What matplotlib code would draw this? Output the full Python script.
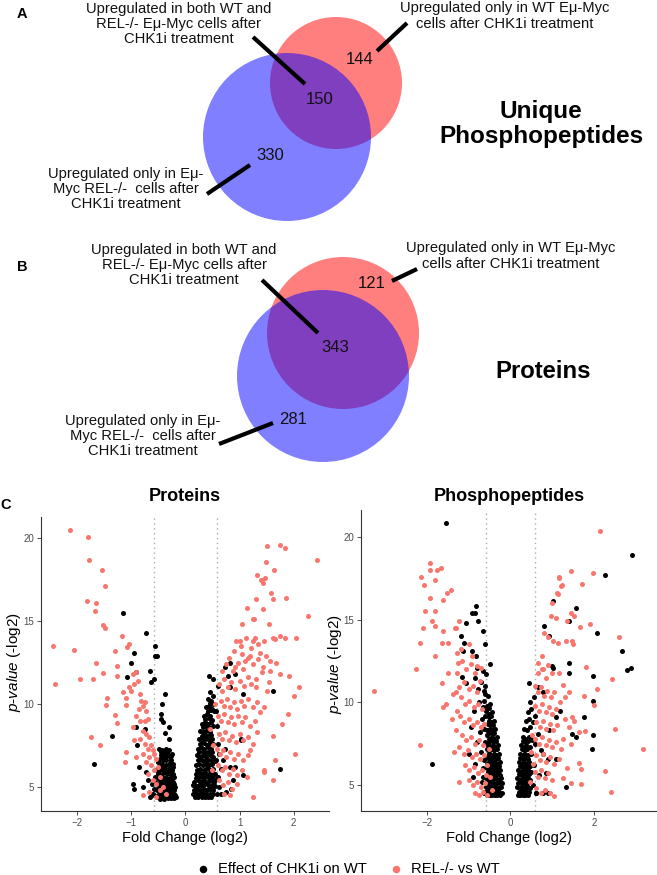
import numpy as np
import matplotlib.pyplot as plt
from matplotlib.patches import Circle

plt.rcParams['font.family'] = ['Liberation Sans', 'DejaVu Sans']
plt.rcParams['mathtext.fontset'] = 'custom'
plt.rcParams['mathtext.it'] = 'Liberation Sans:italic'
plt.rcParams['mathtext.rm'] = 'Liberation Sans'

# Venn counts: [only WT, both, only REL-/-]
venn_phos = [144, 150, 330]
venn_prot = [121, 343, 281]
lab_wt = 'Upregulated only in WT E\u03bc-Myc\ncells after CHK1i treatment'
lab_both = 'Upregulated in both WT and\nREL-/- E\u03bc-Myc cells after\nCHK1i treatment'
lab_rel = 'Upregulated only in E\u03bc-\nMyc REL-/-  cells after\nCHK1i treatment'

legend_labels = ['Effect of CHK1i on WT', 'REL-/- vs WT']
fc_cut = 0.585

# volcano points (fold change log2, -log2 p-value)
prot_wt = [
    (-1.14, 15.5), (-0.72, 14.3), (-0.55, 13.5), (-0.56, 12.9), (-0.53, 12.9), (-0.95, 13.1),
    (-1.0, 12.5), (-1.08, 11.6), (-0.90, 11.9), (-0.65, 12.0), (-0.63, 11.3), (-0.58, 11.5),
    (-0.38, 10.6), (-0.42, 10.0), (-0.44, 9.4), (-0.41, 8.9), (-0.45, 9.1), (-0.30, 8.6),
    (-0.37, 8.25), (-0.30, 7.9), (-0.75, 8.5), (-0.89, 7.5), (-0.91, 8.6), (-1.35, 8.1),
    (-1.68, 6.4), (-0.97, 5.2), (-0.94, 4.9), (-0.78, 5.0), (-0.86, 6.2), (-0.72, 5.9),
    (-0.69, 5.4), (-0.65, 4.4), (-0.58, 4.5),
    (-0.48, 7.3), (-0.42, 7.2), (-0.36, 7.3), (-0.30, 7.2), (-0.25, 7.0), (-0.45, 6.9),
    (-0.38, 6.8), (-0.32, 6.9), (-0.27, 6.6), (-0.22, 6.4), (-0.50, 6.5), (-0.43, 6.4),
    (-0.35, 6.3), (-0.29, 6.2), (-0.24, 6.0), (-0.47, 6.0), (-0.40, 5.9), (-0.33, 5.8),
    (-0.27, 5.7), (-0.21, 5.6), (-0.49, 5.5), (-0.42, 5.4), (-0.36, 5.3), (-0.30, 5.2),
    (-0.24, 5.1), (-0.19, 5.0), (-0.45, 5.0), (-0.38, 4.9), (-0.32, 4.8), (-0.26, 4.7),
    (-0.21, 4.6), (-0.48, 4.6), (-0.42, 4.5), (-0.35, 4.4), (-0.29, 4.4), (-0.23, 4.4),
    (-0.18, 4.4), (-0.52, 4.8), (-0.55, 5.3), (-0.53, 6.1), (-0.40, 7.0), (-0.34, 7.1),
    (-0.28, 6.8), (-0.22, 5.3), (-0.20, 4.8), (-0.46, 4.3), (-0.39, 4.3), (-0.33, 4.6),
    (-0.27, 4.5), (-0.44, 5.7), (-0.31, 5.5), (-0.26, 5.4), (-0.37, 6.1), (-0.41, 6.6),
    (-0.23, 5.8), (-0.51, 5.9), (-0.57, 4.9), (-0.56, 5.6), (-0.60, 4.6), (-0.62, 5.2),
    (-0.45, 7.1), (-0.39, 7.15), (-0.33, 7.05), (-0.27, 6.85), (-0.47, 6.7), (-0.41, 6.75),
    (-0.35, 6.6), (-0.29, 6.45), (-0.23, 6.2), (-0.46, 6.25), (-0.39, 6.15), (-0.32, 6.05),
    (-0.26, 5.9), (-0.50, 5.75), (-0.43, 5.65), (-0.37, 5.55), (-0.30, 5.45), (-0.24, 5.35),
    (-0.20, 5.2), (-0.47, 5.25), (-0.40, 5.15), (-0.34, 5.05), (-0.28, 4.95), (-0.22, 4.85),
    (-0.50, 5.05), (-0.44, 4.75), (-0.37, 4.65), (-0.31, 4.6), (-0.25, 4.55), (-0.19, 4.5),
    (-0.51, 4.4), (-0.44, 4.35), (-0.38, 4.5), (-0.32, 4.35), (-0.26, 4.35), (-0.21, 4.35),
    (0.44, 11.7), (0.51, 11.5), (0.60, 11.1), (0.73, 12.2), (0.83, 12.45), (0.79, 11.7),
    (0.91, 11.8), (0.82, 11.0), (1.06, 10.6), (1.62, 10.8), (1.02, 7.8), (1.03, 7.9),
    (1.06, 5.7), (0.92, 6.2), (1.74, 6.07), (0.73, 7.3), (0.63, 7.0), (0.70, 6.6),
    (0.82, 6.2), (0.88, 5.4), (0.85, 4.9), (0.76, 4.7), (0.66, 4.6),
    (0.18, 4.4), (0.24, 4.4), (0.30, 4.4), (0.36, 4.4), (0.42, 4.4), (0.48, 4.4),
    (0.16, 4.8), (0.22, 4.9), (0.28, 4.8), (0.34, 4.9), (0.40, 4.8), (0.46, 4.9), (0.52, 4.8),
    (0.17, 5.3), (0.23, 5.4), (0.29, 5.3), (0.35, 5.4), (0.41, 5.3), (0.47, 5.4), (0.53, 5.3),
    (0.19, 5.8), (0.25, 5.9), (0.31, 5.8), (0.37, 5.9), (0.43, 5.8), (0.49, 5.9), (0.55, 5.8),
    (0.20, 6.3), (0.26, 6.4), (0.32, 6.3), (0.38, 6.4), (0.44, 6.3), (0.50, 6.4),
    (0.21, 6.9), (0.27, 6.8), (0.33, 6.9), (0.39, 6.8), (0.45, 6.9), (0.51, 6.8),
    (0.23, 7.3), (0.29, 7.4), (0.35, 7.3), (0.41, 7.4), (0.47, 7.3),
    (0.25, 7.9), (0.31, 7.8), (0.37, 7.9), (0.43, 7.8), (0.49, 7.9),
    (0.27, 8.4), (0.33, 8.3), (0.39, 8.4), (0.45, 8.3), (0.30, 8.8), (0.36, 8.9),
    (0.42, 8.8), (0.48, 8.9), (0.34, 9.3), (0.40, 9.4), (0.46, 9.3), (0.38, 9.8),
    (0.44, 9.9), (0.50, 9.7), (0.42, 10.3), (0.48, 10.2), (0.45, 10.7), (0.52, 10.5),
    (0.56, 9.6), (0.58, 8.7), (0.60, 7.6), (0.57, 6.6), (0.60, 5.6), (0.58, 4.6),
    (0.62, 5.0), (0.65, 6.1), (0.14, 4.6), (0.15, 5.1), (0.20, 4.6),
    (0.21, 4.6), (0.27, 4.55), (0.33, 4.65), (0.39, 4.6), (0.45, 4.55), (0.51, 4.6),
    (0.19, 5.05), (0.25, 5.1), (0.31, 5.05), (0.37, 5.15), (0.43, 5.05), (0.49, 5.1),
    (0.55, 5.05), (0.20, 5.55), (0.26, 5.6), (0.32, 5.55), (0.38, 5.65), (0.44, 5.55),
    (0.50, 5.6), (0.56, 5.5), (0.22, 6.05), (0.28, 6.1), (0.34, 6.05), (0.40, 6.15),
    (0.46, 6.05), (0.52, 6.1), (0.24, 6.6), (0.30, 6.65), (0.36, 6.55), (0.42, 6.65),
    (0.48, 6.6), (0.54, 6.55), (0.26, 7.1), (0.32, 7.15), (0.38, 7.05), (0.44, 7.15),
    (0.50, 7.1), (0.28, 7.6), (0.34, 7.65), (0.40, 7.55), (0.46, 7.65), (0.52, 7.6),
    (0.30, 8.1), (0.36, 8.15), (0.42, 8.05), (0.48, 8.15), (0.33, 8.6), (0.39, 8.65),
    (0.45, 8.55), (0.51, 8.65), (0.37, 9.1), (0.43, 9.15), (0.49, 9.05), (0.41, 9.6),
    (0.47, 9.65), (0.53, 9.55), (0.45, 10.05), (0.51, 10.0),
]

prot_rel = [
    (-2.12, 20.48), (-1.80, 20.08), (-1.78, 18.67), (-1.54, 18.06), (-1.48, 17.1), (-1.81, 16.19),
    (-1.65, 16.09), (-1.67, 15.58), (-1.51, 14.78), (-1.48, 14.58), (-2.44, 13.49), (-2.06, 13.27),
    (-2.41, 11.21), (-1.64, 12.5), (-1.94, 11.53), (-1.70, 11.51), (-1.52, 11.88), (-1.30, 13.19),
    (-1.16, 14.07), (-1.26, 12.28), (-1.26, 11.69), (-1.07, 13.43), (-1.03, 13.59), (-1.45, 10.34),
    (-1.47, 9.94), (-1.29, 9.33), (-1.26, 8.83), (-1.74, 8.0), (-1.58, 7.54), (-1.10, 9.96),
    (-1.10, 10.38), (-1.14, 10.71), (-1.03, 11.0),
    (-0.97, 11.8), (-0.90, 11.9), (-0.87, 11.4), (-0.94, 11.2), (-1.0, 10.8), (-0.84, 10.6),
    (-0.81, 10.2), (-0.78, 9.9), (-0.75, 10.1), (-0.86, 9.7), (-0.72, 9.6), (-0.90, 9.3),
    (-0.84, 9.0), (-0.75, 9.0), (-0.69, 9.1), (-0.97, 8.6), (-0.78, 8.4), (-0.72, 8.2),
    (-0.66, 8.0), (-0.84, 7.9), (-0.94, 7.8), (-0.75, 7.6), (-0.63, 7.5), (-0.69, 7.3),
    (-0.60, 7.2), (-0.57, 7.0), (-0.78, 7.0), (-0.66, 6.8), (-0.54, 6.7), (-0.72, 6.5),
    (-0.63, 6.3), (-0.50, 6.2), (-0.57, 6.0), (-0.69, 5.8), (-0.47, 5.6), (-0.60, 5.4),
    (-0.54, 5.2), (-0.41, 5.0), (-0.47, 4.8), (-0.66, 4.7), (-0.35, 4.6), (-0.78, 4.5),
    (-0.54, 4.4), (-1.12, 6.5), (-1.09, 7.1), (-0.90, 6.8),
    (1.50, 19.5), (1.75, 19.6), (1.83, 19.4), (2.43, 18.7), (1.64, 18.1), (1.47, 17.6),
    (1.41, 17.5), (1.44, 17.3), (1.86, 16.4), (1.58, 16.7), (1.62, 16.3), (1.30, 16.3),
    (1.43, 15.7), (2.27, 15.3), (1.25, 15.1), (1.55, 14.8), (2.04, 14.0), (1.84, 14.0),
    (1.75, 14.1), (1.66, 13.9), (2.09, 11.0), (1.91, 11.7), (2.0, 10.5), (1.89, 9.4),
    (1.78, 8.8), (2.02, 7.0), (1.66, 6.65), (1.62, 5.4), (1.45, 5.9), (1.24, 4.4),
    (1.33, 17.78), (1.40, 17.5), (1.48, 18.57), (1.14, 15.8), (1.26, 15.1), (1.05, 14.8),
    (0.94, 13.8), (1.0, 13.8), (1.25, 13.8), (1.29, 14.0), (1.46, 13.8), (1.61, 14.0),
    (1.37, 13.1), (1.56, 12.6), (1.68, 12.5), (1.16, 12.8), (1.10, 12.6), (0.91, 12.2),
    (1.25, 12.4), (1.43, 12.2), (1.56, 12.0), (1.74, 11.8), (1.62, 8.1), (1.46, 6.0),
    (0.62, 11.2), (0.68, 10.8), (0.72, 11.5), (0.78, 11.0), (0.85, 11.3), (0.92, 10.9),
    (1.0, 11.4), (1.08, 11.1), (1.15, 11.6), (1.22, 11.2), (1.30, 11.5), (0.65, 10.2),
    (0.71, 9.9), (0.77, 10.3), (0.83, 9.8), (0.89, 10.1), (0.95, 9.7), (1.02, 10.2),
    (1.09, 9.9), (1.16, 10.3), (1.24, 9.8), (1.33, 10.1), (0.60, 9.3), (0.66, 9.0),
    (0.72, 9.4), (0.78, 8.9), (0.84, 9.2), (0.90, 8.8), (0.97, 9.3), (1.04, 8.9),
    (1.11, 9.2), (1.19, 8.7), (1.28, 9.0), (0.62, 8.2), (0.68, 7.9), (0.74, 8.3),
    (0.80, 7.8), (0.86, 8.1), (0.93, 7.7), (1.00, 8.2), (1.07, 7.8), (1.15, 8.0),
    (1.25, 7.6), (0.58, 7.3), (0.64, 7.0), (0.70, 7.2), (0.76, 6.8), (0.82, 7.1),
    (0.90, 6.7), (0.98, 7.0), (1.06, 6.6), (1.16, 6.9), (0.60, 6.3), (0.67, 6.0),
    (0.74, 6.2), (0.81, 5.8), (0.88, 6.1), (0.96, 5.7), (1.05, 6.0), (1.14, 5.6),
    (0.63, 5.4), (0.70, 5.1), (0.78, 5.3), (0.86, 4.9), (0.95, 5.2), (0.72, 4.6),
    (0.82, 4.5), (0.68, 12.0), (0.75, 12.4), (0.88, 12.0), (0.97, 12.5), (1.06, 12.1),
    (1.20, 12.9), (1.35, 12.7), (1.30, 11.0), (1.38, 9.5), (1.42, 11.9), (1.50, 10.8),
    (0.45, 8.5), (0.50, 6.0), (0.52, 7.5), (0.55, 10.0), (0.90, 13.2), (1.02, 13.5),
    (1.12, 14.0), (1.22, 13.4), (1.35, 13.6), (1.48, 12.9), (1.55, 11.3), (1.45, 9.8),
    (1.32, 8.3), (1.20, 7.2), (1.05, 13.0), (0.80, 12.8),
]

phos_wt = [
    (-1.55, 20.83), (-0.83, 15.8), (-0.91, 15.4), (-0.85, 15.4), (-1.06, 14.8), (-0.78, 14.9),
    (-0.66, 14.3), (-1.19, 14.0), (-1.10, 13.6), (-1.13, 13.1), (-0.91, 13.1), (-0.60, 13.5),
    (-0.48, 12.3), (-0.82, 12.8), (-0.79, 12.1), (-0.66, 11.9), (-0.58, 11.7), (-1.15, 11.55),
    (-1.06, 11.15), (-1.88, 6.3),
    (-0.25, 4.4), (-0.31, 4.4), (-0.37, 4.4), (-0.43, 4.4), (-0.49, 4.4), (-0.55, 4.4),
    (-0.22, 4.9), (-0.28, 4.8), (-0.34, 4.9), (-0.40, 4.8), (-0.46, 4.9), (-0.52, 4.8), (-0.58, 4.9),
    (-0.23, 5.4), (-0.29, 5.3), (-0.35, 5.4), (-0.41, 5.3), (-0.47, 5.4), (-0.53, 5.3), (-0.59, 5.4),
    (-0.24, 5.9), (-0.30, 5.8), (-0.36, 5.9), (-0.42, 5.8), (-0.48, 5.9), (-0.54, 5.8),
    (-0.26, 6.4), (-0.32, 6.3), (-0.38, 6.4), (-0.44, 6.3), (-0.50, 6.4), (-0.56, 6.3),
    (-0.28, 6.9), (-0.34, 6.8), (-0.40, 6.9), (-0.46, 6.8), (-0.52, 6.9),
    (-0.30, 7.4), (-0.36, 7.3), (-0.42, 7.4), (-0.48, 7.3), (-0.54, 7.4),
    (-0.33, 7.9), (-0.39, 7.8), (-0.45, 7.9), (-0.51, 7.8), (-0.36, 8.4), (-0.42, 8.3),
    (-0.48, 8.4), (-0.55, 8.3), (-0.40, 8.9), (-0.46, 8.8), (-0.52, 8.9), (-0.44, 9.4),
    (-0.50, 9.3), (-0.58, 9.5), (-0.48, 9.9), (-0.56, 9.8), (-0.62, 10.1), (-0.54, 10.4),
    (-0.64, 10.7), (-0.70, 11.2), (-0.60, 11.0), (-0.75, 10.0), (-0.68, 9.0), (-0.72, 8.2),
    (-0.80, 7.6), (-0.70, 7.0), (-0.65, 6.0), (-0.68, 5.2), (-0.62, 4.6), (-0.20, 4.5),
    (-0.19, 5.1), (-0.85, 6.3), (-0.90, 5.5), (-1.0, 6.9), (-0.95, 8.5), (-0.88, 9.5),
    (-0.78, 10.8), (-0.85, 11.5),
    (-0.28, 4.6), (-0.34, 4.65), (-0.40, 4.6), (-0.46, 4.55), (-0.52, 4.65), (-0.58, 4.6),
    (-0.25, 5.1), (-0.31, 5.15), (-0.37, 5.05), (-0.43, 5.1), (-0.49, 5.15), (-0.55, 5.05),
    (-0.26, 5.6), (-0.32, 5.65), (-0.38, 5.55), (-0.44, 5.6), (-0.50, 5.65), (-0.56, 5.55),
    (-0.27, 6.15), (-0.33, 6.1), (-0.39, 6.2), (-0.45, 6.05), (-0.51, 6.15), (-0.57, 6.05),
    (-0.29, 6.65), (-0.35, 6.6), (-0.41, 6.7), (-0.47, 6.55), (-0.53, 6.65), (-0.59, 6.7),
    (-0.32, 7.15), (-0.38, 7.1), (-0.44, 7.2), (-0.50, 7.05), (-0.56, 7.15), (-0.35, 7.65),
    (-0.41, 7.6), (-0.47, 7.7), (-0.53, 7.55), (-0.38, 8.15), (-0.44, 8.1), (-0.50, 8.2),
    (-0.57, 8.05), (-0.42, 8.65), (-0.48, 8.6), (-0.54, 8.7), (-0.46, 9.15), (-0.52, 9.1),
    (-0.60, 9.2), (-0.51, 9.65), (-0.57, 9.6), (-0.60, 10.5),
    (-0.64, 4.5), (-0.66, 5.5), (-0.63, 6.5), (-0.61, 7.6), (-0.63, 8.4), (-0.66, 9.7),
    (2.90, 18.9), (2.25, 17.7), (1.03, 16.1), (1.56, 15.7), (1.41, 14.9), (0.81, 14.6),
    (0.93, 14.0), (2.06, 14.2), (2.67, 13.1), (2.79, 11.95), (2.89, 12.05), (1.40, 12.4),
    (1.0, 12.2), (1.03, 12.1), (1.39, 11.8), (1.97, 11.6), (0.44, 11.15), (1.97, 10.1),
    (1.19, 9.5), (1.76, 9.1), (1.97, 8.0), (1.48, 8.1), (1.56, 7.9), (1.94, 7.2),
    (1.34, 4.9), (0.77, 10.6), (0.65, 10.9), (1.09, 9.1), (0.93, 8.3), (0.89, 6.6),
    (1.09, 6.6), (0.77, 6.9), (0.85, 5.7), (0.77, 4.5), (0.89, 4.5), (0.61, 4.5),
    (0.18, 4.4), (0.24, 4.4), (0.30, 4.4), (0.36, 4.4), (0.42, 4.4),
    (0.16, 4.9), (0.22, 4.8), (0.28, 4.9), (0.34, 4.8), (0.40, 4.9), (0.46, 4.8),
    (0.17, 5.4), (0.23, 5.3), (0.29, 5.4), (0.35, 5.3), (0.41, 5.4), (0.47, 5.3),
    (0.19, 5.9), (0.25, 5.8), (0.31, 5.9), (0.37, 5.8), (0.43, 5.9), (0.49, 5.8),
    (0.21, 6.4), (0.27, 6.3), (0.33, 6.4), (0.39, 6.3), (0.45, 6.4),
    (0.23, 6.9), (0.29, 6.8), (0.35, 6.9), (0.41, 6.8), (0.50, 6.9),
    (0.26, 7.4), (0.32, 7.3), (0.38, 7.4), (0.46, 7.3), (0.29, 7.9), (0.36, 7.8),
    (0.44, 7.9), (0.52, 7.7), (0.33, 8.4), (0.40, 8.3), (0.48, 8.5), (0.37, 8.9),
    (0.45, 9.0), (0.55, 8.8), (0.42, 9.4), (0.50, 9.6), (0.47, 10.0), (0.56, 10.3),
    (0.60, 9.2), (0.58, 7.5), (0.56, 6.2), (0.55, 5.0), (0.62, 4.5), (0.68, 5.6),
    (0.72, 7.1), (0.66, 8.1),
    (0.21, 4.6), (0.27, 4.65), (0.33, 4.6), (0.39, 4.55), (0.45, 4.6), (0.19, 5.1),
    (0.25, 5.15), (0.31, 5.1), (0.37, 5.05), (0.43, 5.15), (0.20, 5.65), (0.26, 5.6),
    (0.32, 5.65), (0.38, 5.55), (0.44, 5.65), (0.22, 6.15), (0.28, 6.1), (0.34, 6.15),
    (0.40, 6.05), (0.46, 6.15), (0.24, 6.65), (0.30, 6.6), (0.36, 6.65), (0.42, 6.55),
    (0.27, 7.15), (0.33, 7.1), (0.39, 7.15), (0.31, 7.65), (0.37, 7.6), (0.43, 7.65),
]

phos_rel = [
    (-2.14, 17.6), (-2.06, 17.1), (-1.91, 18.4), (-1.91, 18.0), (-1.75, 18.0), (-1.67, 18.1),
    (-1.79, 17.4), (-1.41, 16.8), (-1.52, 16.6), (-1.61, 16.2), (-1.91, 16.3), (-2.05, 15.5),
    (-1.81, 15.5), (-1.87, 14.9), (-2.10, 14.5), (-1.79, 14.6), (-1.61, 14.3), (-2.15, 13.6),
    (-1.48, 13.6), (-1.63, 13.6), (-1.79, 12.8), (-2.25, 12.0), (-3.25, 10.7), (-1.64, 11.15),
    (-1.61, 9.7), (-1.53, 9.9), (-2.15, 7.4), (-1.23, 5.2), (-1.49, 11.8), (-1.29, 14.5),
    (-1.23, 14.9), (-1.33, 14.5), (-1.27, 13.0), (-1.25, 12.4), (-1.28, 11.8), (-1.31, 10.6),
    (-1.23, 10.9),
    (-1.15, 12.5), (-1.05, 12.0), (-0.95, 12.3), (-0.85, 11.8), (-1.10, 11.2), (-1.00, 10.8),
    (-0.90, 11.0), (-0.80, 10.6), (-0.72, 11.3), (-1.18, 10.3), (-1.08, 9.9), (-0.98, 10.1),
    (-0.88, 9.7), (-0.78, 9.9), (-0.68, 9.6), (-1.20, 9.2), (-1.10, 8.8), (-1.00, 9.0),
    (-0.90, 8.6), (-0.80, 8.8), (-0.70, 8.5), (-0.62, 8.7), (-1.15, 8.0), (-1.05, 7.7),
    (-0.95, 7.9), (-0.85, 7.5), (-0.75, 7.7), (-0.65, 7.4), (-1.22, 7.3), (-1.12, 6.9),
    (-1.02, 7.1), (-0.92, 6.7), (-0.82, 6.9), (-0.72, 6.6), (-0.62, 6.8), (-1.08, 6.2),
    (-0.98, 5.9), (-0.88, 6.1), (-0.78, 5.7), (-0.68, 5.9), (-0.58, 5.6), (-1.00, 5.3),
    (-0.90, 5.0), (-0.80, 5.2), (-0.70, 4.9), (-0.60, 5.1), (-0.85, 4.5), (-0.75, 4.4),
    (-0.65, 4.6), (-0.55, 4.4), (-1.3, 8.3), (-1.28, 9.5), (-1.35, 7.0), (-0.92, 12.8),
    (-0.80, 12.2), (-1.18, 13.2), (-0.55, 6.2), (-0.50, 7.2), (-0.48, 5.5), (-0.45, 4.7),
    (-1.40, 9.0), (-1.38, 10.5), (-0.98, 13.5), (-0.70, 12.1),
    (2.14, 20.36), (1.46, 17.95), (1.98, 17.85), (1.71, 17.15), (1.17, 17.5), (1.22, 17.05),
    (1.14, 16.55), (2.60, 13.98), (1.90, 14.74), (1.66, 14.58), (1.52, 15.2), (1.45, 15.4),
    (1.35, 14.9), (1.48, 13.7), (1.50, 13.5), (1.33, 13.7), (1.80, 12.13), (2.42, 11.4),
    (2.08, 10.83), (2.0, 9.86), (1.75, 10.4), (2.5, 8.4), (3.17, 7.2), (1.79, 8.25),
    (1.63, 8.2), (1.64, 6.35), (1.68, 5.96), (2.26, 5.84), (2.40, 4.56), (1.68, 5.04),
    (1.45, 5.1), (1.25, 5.4), (1.05, 4.34), (1.48, 9.1), (1.52, 8.9),
    (1.17, 17.6), (1.23, 17.1), (1.11, 16.6), (0.99, 16.0), (0.97, 15.2), (1.09, 15.1),
    (0.81, 14.2), (0.90, 13.97), (1.02, 13.7), (1.13, 13.6), (0.75, 12.8), (0.65, 12.4),
    (0.67, 11.75), (0.77, 12.0), (0.89, 12.26), (1.17, 11.75), (1.25, 11.05), (1.40, 10.65),
    (1.31, 10.34),
    (0.58, 11.0), (0.65, 10.6), (0.72, 10.9), (0.80, 10.4), (0.88, 10.7), (0.96, 10.3),
    (1.05, 10.6), (0.60, 9.8), (0.68, 9.5), (0.76, 9.9), (0.84, 9.4), (0.92, 9.7),
    (1.00, 9.3), (1.10, 9.6), (0.62, 8.8), (0.70, 8.5), (0.78, 8.9), (0.86, 8.4),
    (0.94, 8.7), (1.02, 8.3), (1.12, 8.6), (0.60, 7.8), (0.68, 7.5), (0.76, 7.9),
    (0.84, 7.4), (0.92, 7.7), (1.00, 7.3), (1.10, 7.6), (1.20, 7.2), (0.62, 6.8),
    (0.70, 6.5), (0.78, 6.9), (0.86, 6.4), (0.94, 6.7), (1.04, 6.3), (1.15, 6.6),
    (0.58, 5.8), (0.66, 5.5), (0.74, 5.9), (0.82, 5.4), (0.90, 5.7), (1.00, 5.3),
    (0.62, 4.8), (0.72, 4.5), (0.82, 4.7), (0.95, 4.5), (1.25, 7.8), (1.30, 9.0),
    (1.35, 6.0), (0.55, 6.3), (0.50, 7.0), (0.52, 8.0), (0.48, 5.2), (1.18, 10.0),
    (0.85, 11.5), (1.0, 11.8), (1.45, 7.5), (1.4, 8.5), (0.75, 12.0),
]

W, H = 657, 875
fig = plt.figure(figsize=(W / 100, H / 100), dpi=100)

# overlay in pixel coordinates for the venn panels and letters
ov = fig.add_axes([0, 0, 1, 1])
ov.set_xlim(0, W)
ov.set_ylim(H, 0)
ov.axis('off')


def venn(counts, red, blue, num_pos, texts, lines, title, title_pos, tsize):
    ov.add_patch(Circle(red[:2], red[2], color='#ff0000', alpha=0.5, lw=0))
    ov.add_patch(Circle(blue[:2], blue[2], color='#0000ff', alpha=0.5, lw=0))
    for c, (x, y) in zip(counts, num_pos):
        ov.text(x, y, str(c), fontsize=12, ha='center', va='center', color='#111111')
    for (tx, ty, t), seg in zip(texts, lines):
        ov.text(tx, ty, t, fontsize=10.6, ha='center', va='center', linespacing=1.12, color='#111111')
        ov.plot([seg[0], seg[2]], [seg[1], seg[3]], color='black', lw=3, solid_capstyle='butt')
    ov.text(title_pos[0], title_pos[1], title, fontsize=tsize, fontweight='bold',
            ha='center', va='center', linespacing=1.1)


venn(venn_phos, (336, 83, 66), (287, 137, 84),
     [(360, 60), (320, 100), (270, 156)],
     [(505, 16, lab_wt), (179, 24, lab_both), (126, 189, lab_rel)],
     [(377, 51, 407, 23), (253, 37, 305, 84), (207, 194, 250, 165)],
     'Unique\nPhosphopeptides', (541, 124), 17.5)

venn(venn_prot, (343, 333, 76), (323, 376, 86),
     [(372, 284), (335, 347), (293, 420)],
     [(511, 256, lab_wt), (184, 265, lab_both), (143, 436, lab_rel)],
     [(392, 281, 417, 269), (262, 280, 318, 333), (219, 444, 273, 423)],
     'Proteins', (543, 372), 17.2)

for letter, (x, y) in zip('ABC', [(22, 14), (22, 267), (6, 505)]):
    ov.text(x, y, letter, fontsize=10.5, fontweight='bold', ha='center', va='center')

salmon = '#F8766D'


def volcano(rect, wt, rel, xlim, ylim, xticks):
    ax = fig.add_axes(rect)
    ax.set_facecolor('none')
    wt = np.array(wt)
    rel = np.array(rel)
    h1 = ax.scatter(wt[:, 0], wt[:, 1], s=13, color='black', lw=0, zorder=2)
    h2 = ax.scatter(rel[:, 0], rel[:, 1], s=13, color=salmon, lw=0, zorder=3)
    for v in (-fc_cut, fc_cut):
        ax.axvline(v, color='#aaaaaa', ls=(0, (1, 2.5)), lw=1, zorder=1)
    ax.set_xlim(*xlim)
    ax.set_ylim(*ylim)
    ax.set_xticks(xticks)
    ax.set_xticklabels([('\u2212' + str(abs(t))) if t < 0 else str(t) for t in xticks])
    ax.set_yticks([5, 10, 15, 20])
    for s in ('top', 'right'):
        ax.spines[s].set_visible(False)
    for s in ('left', 'bottom'):
        ax.spines[s].set_linewidth(0.8)
        ax.spines[s].set_color('#333333')
    ax.tick_params(labelsize=7, labelcolor='#4d4d4d', color='#333333', length=3, width=0.6, pad=2)
    return ax, h1, h2


axl, h1, h2 = volcano([41 / W, 64 / H, 288 / W, 294 / H], prot_wt, prot_rel,
                      (-2.66, 2.65), (3.55, 21.27), [-2, -1, 0, 1, 2])
axr, _, _ = volcano([361 / W, 64 / H, 295 / W, 301 / H], phos_wt, phos_rel,
                    (-3.57, 3.48), (3.43, 21.63), [-2, 0, 2])

ylab = r'$\mathit{p}$-$\mathit{value}$ (-log2)'
for cx, title in [(185, 'Proteins'), (509, 'Phosphopeptides')]:
    fig.text(cx / W, 1 - 497 / H, title, fontsize=13, fontweight='bold', ha='center', va='center')
    fig.text(cx / W, 1 - 838 / H, 'Fold Change (log2)', fontsize=10.5, ha='center', va='center')
fig.text(14 / W, 1 - 662 / H, ylab, fontsize=11, rotation=90, ha='center', va='center')
fig.text(335 / W, 1 - 664 / H, ylab, fontsize=11, rotation=90, ha='center', va='center')

fig.legend([h1, h2], legend_labels, loc='center', bbox_to_anchor=(348 / W, 1 - 869 / H),
           ncol=2, frameon=False, fontsize=10.6, markerscale=1.5, handletextpad=0.5,
           columnspacing=1.5, handlelength=1.0)

fig.savefig('out.png', dpi=100)
